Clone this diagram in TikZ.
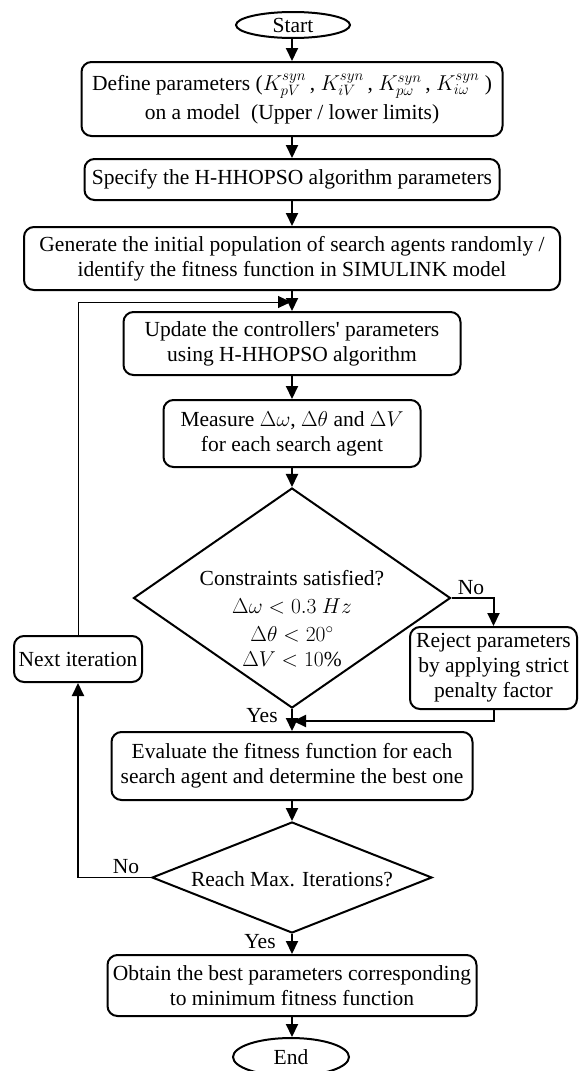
\RequirePackage{fix-cm}
\documentclass[tikz,border=0pt]{standalone}
\usepackage{fontspec}
\setmainfont{Liberation Serif}[Ligatures=TeXOff]
\usetikzlibrary{shapes.geometric,arrows.meta}
\begin{document}
\begin{tikzpicture}[x=1pt,y=-1pt,
  every node/.style={font=\fontsize{21.5}{25}\selectfont},
  box/.style={draw,line width=2pt,rounded corners=10pt,align=center,inner sep=0pt},
  term/.style={draw,line width=2pt,ellipse,inner sep=0pt},
  dec/.style={draw,line width=2pt,diamond,inner sep=0pt},
  arr/.style={line width=2pt,-{Triangle[length=13pt,width=12pt]}},
  thinarr/.style={line width=1pt,-{Triangle[length=13pt,width=12pt]}},
  thinline/.style={line width=1pt},
  lbl/.style={inner sep=0pt}]
\useasboundingbox (0,0) rectangle (582,1071);
\fill[white] (0,0) rectangle (582,1071);

\node[term,minimum width=114pt,minimum height=26pt] (start) at (293,25) {Start};
\node[box,minimum width=421pt,minimum height=74pt] (b1) at (292,99)
  {Define parameters ($K_{pV}^{syn}$\,, $K_{iV}^{syn}$\,, $K_{p\omega}^{syn}$\,, $K_{i\omega}^{syn}$\ )\\[4pt]on a model\ \ (Upper / lower limits)};
\node[box,minimum width=415pt,minimum height=41pt] (b2) at (292,179.5)
  {Specify the H-HHOPSO algorithm parameters};
\node[box,minimum width=536pt,minimum height=63pt] (b3) at (292,258.5)
  {Generate the initial population of search agents randomly /\\identify the fitness function in SIMULINK model};
\node[box,minimum width=337pt,minimum height=63pt] (b4) at (292,343.5)
  {Update the controllers' parameters\\using H-HHOPSO algorithm};
\node[box,minimum width=257pt,minimum height=67pt] (b5) at (292,433.5)
  {Measure $\Delta\omega$, $\Delta\theta$ and $\Delta V$\\for each search agent};
\node[dec,minimum width=317pt,minimum height=220pt] (d1) at (292,598) {};
\node[align=center,inner sep=0pt] (d1t) at (292,619)
  {Constraints satisfied?\\[3pt]$\Delta\omega < 0.3\ Hz$\\[3pt]$\Delta\theta < 20^{\circ}$\\$\Delta V < 10\%$};
\node[box,minimum width=167pt,minimum height=82pt] (rej) at (493.5,668)
  {Reject parameters\\by applying strict\\penalty factor};
\node[box,minimum width=128pt,minimum height=46pt] (next) at (78,659) {Next iteration};
\node[box,minimum width=361pt,minimum height=68pt] (b7) at (292,766)
  {Evaluate the fitness function for each\\search agent and determine the best one};
\node[dec,minimum width=280pt,minimum height=111pt] (d2) at (292,877.5) {};
\node[inner sep=0pt] (d2t) at (292,879) {Reach Max. Iterations?};
\node[box,minimum width=369pt,minimum height=61pt] (b8) at (292,985.5)
  {Obtain the best parameters corresponding\\to minimum fitness function};
\node[term,minimum width=116pt,minimum height=38pt] (end) at (291,1057) {End};

\node[lbl] (no1) at (471,588) {No};
\node[lbl] (yes1) at (262,716) {Yes};
\node[lbl] (no2) at (126,867) {No};
\node[lbl] (yes2) at (260,942) {Yes};

\draw[arr] (start.south -| b1.north) -- (b1);
\draw[arr] (b1) -- (b2);
\draw[arr] (b2) -- (b3);
\draw[arr] (b3) -- (b4);
\draw[arr] (b4) -- (b5);
\draw[arr] (b5) -- (d1);
\draw[arr] (d1.east) -| (rej.north);
\draw[arr] (d1) -- (b7);
\coordinate (j2) at (293,721);
\draw[arr] (rej.south) |- (j2);
\draw[arr] (b7) -- (d2);
\draw[arr] (d2) -- (b8);
\draw[arr] (b8.south) -- (b8.south |- end.north);
\coordinate (c2) at (next.south |- d2.west);
\draw[thinline] (d2.west) -- (c2);
\draw[arr] (c2) -- (next.south);
\coordinate (j1) at (291,302);
\draw[thinarr] (next.north) |- (j1);
\end{tikzpicture}
\end{document}
